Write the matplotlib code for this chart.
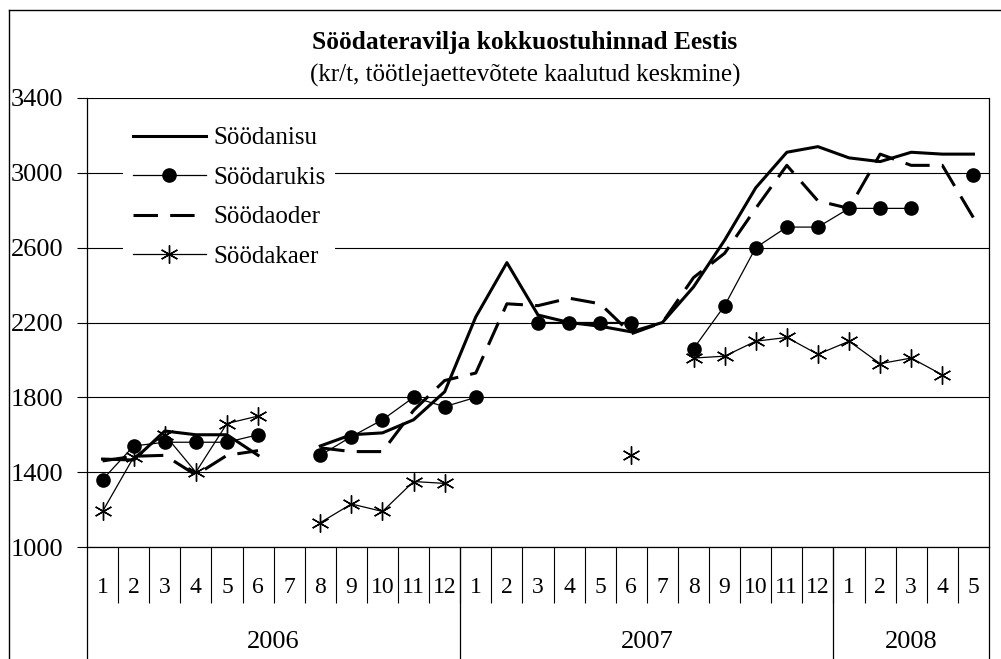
import matplotlib.pyplot as plt
import numpy as np
from matplotlib.lines import Line2D

nan = np.nan

# months: 2006-01 .. 2008-05
months = [str(m) for m in range(1, 13)] + [str(m) for m in range(1, 13)] + [str(m) for m in range(1, 6)]
years = ["2006", "2007", "2008"]
year_lengths = [12, 12, 5]

nisu = [1470, 1465, 1620, 1600, 1600, 1490, nan, 1540, 1600, 1610, 1680, 1830,
        2230, 2520, 2240, 2200, 2180, 2150, 2200, 2390, 2640, 2920, 3110, 3140,
        3080, 3060, 3110, 3100, 3100]
rukis = [1360, 1540, 1560, 1560, 1560, 1600, nan, 1490, 1590, 1680, 1800, 1750,
         1800, nan, 2200, 2200, 2200, 2200, nan, 2060, 2290, 2600, 2710, 2710,
         2810, 2810, 2810, nan, 2990]
oder = [1460, 1485, 1490, 1385, 1490, 1515, nan, 1530, 1510, 1510, 1730, 1890,
        1930, 2300, 2290, 2330, 2300, 2140, 2200, 2440, 2570, 2810, 3040, 2850,
        2810, 3100, 3040, 3040, 2760]
kaer = [1190, 1480, 1600, 1400, 1660, 1700, nan, 1130, 1230, 1190, 1350, 1340,
        nan, nan, nan, nan, nan, 1490, nan, 2010, 2020, 2100, 2120, 2030,
        2100, 1980, 2010, 1920, nan]

plt.rcParams['font.family'] = ['Liberation Serif', 'DejaVu Serif']

fig = plt.figure(figsize=(10.01, 6.59), dpi=100)
ax = fig.add_axes([87 / 1001, 112 / 659, 902 / 1001, 449 / 659])

x = np.arange(len(months)) + 0.5

ax.plot(x, nisu, color="black", lw=2.2, label="Söödanisu", zorder=3)
ax.plot(x, rukis, color="black", lw=0.9, marker="o", ms=9.5, label="Söödarukis", zorder=4)
ax.plot(x, oder, color="black", lw=2.2, linestyle=(0, (8, 4)), label="Söödaoder", zorder=3)
ax.plot(x, kaer, color="black", lw=0.9, marker=(6, 2, 0), ms=13, mew=1.0, label="Söödakaer", zorder=4)

ax.set_xlim(0, len(months))
ax.set_ylim(1000, 3400)
ax.set_yticks(range(1000, 3401, 400))
ax.tick_params(axis="y", labelsize=19, length=7, width=0.8, pad=10, direction="out")
ax.set_xticks([])
ax.yaxis.grid(True, color="black", lw=0.8)
ax.set_axisbelow(True)
ax.spines["top"].set_visible(False)
for s in ["left", "right", "bottom"]:
    ax.spines[s].set_linewidth(0.9)

# category axis: month boxes and year groups
tr = ax.get_xaxis_transform()
ax.vlines(np.arange(1, len(months)), -0.125, 0, transform=tr, colors="black", lw=0.8, clip_on=False)
bounds = np.cumsum([0] + year_lengths)
ax.vlines(bounds, -0.3, 0, transform=tr, colors="black", lw=0.9, clip_on=False)
for xi, m in zip(x, months):
    ax.text(xi, -0.091, m, transform=tr, ha="center", va="center", fontsize=17)
for i, yr in enumerate(years):
    ax.text((bounds[i] + bounds[i + 1]) / 2, -0.212, yr, transform=tr, ha="center", va="center", fontsize=19)

leg = ax.legend(loc="upper left", bbox_to_anchor=(0.040, 0.958), borderaxespad=0, fontsize=18,
                frameon=True, facecolor="white", edgecolor="none", framealpha=1, fancybox=False,
                handlelength=2.9, handletextpad=0.3, labelspacing=0.68, borderpad=0.4)

fig.text(0.5245, 0.936, "Söödateravilja kokkuostuhinnad Eestis", ha="center", va="center",
         fontsize=18.3, fontweight="bold")
fig.text(0.5245, 0.886, "(kr/t, töötlejaettevõtete kaalutud keskmine)", ha="center", va="center",
         fontsize=18)

# outer chart frame (left and top edges)
fig.add_artist(Line2D([9 / 1001, 9 / 1001], [0, 1 - 10 / 659], color="black", lw=1.0))
fig.add_artist(Line2D([9 / 1001, 1], [1 - 10 / 659, 1 - 10 / 659], color="black", lw=1.0))

fig.savefig("out.png", dpi=100)
